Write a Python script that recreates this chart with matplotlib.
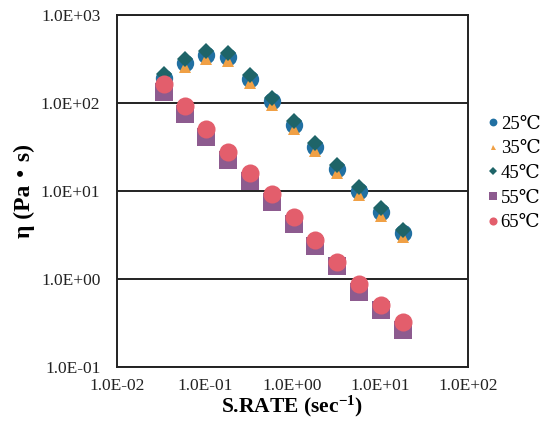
"""
Viscosity vs shear rate at five temperatures (log-log).
"""
import matplotlib
matplotlib.use("Agg")
import matplotlib.pyplot as plt
import numpy as np
from matplotlib.ticker import FixedLocator, FuncFormatter, NullLocator

plt.rcParams["font.family"] = ["Liberation Serif", "DejaVu Serif", "Noto Sans CJK JP"]
plt.rcParams["mathtext.fontset"] = "custom"
plt.rcParams["mathtext.rm"] = "Liberation Serif:bold"
plt.rcParams["mathtext.default"] = "rm"

# shear rate (sec-1)
rate = [0.034, 0.059, 0.104, 0.184, 0.325, 0.58, 1.03, 1.82, 3.22, 5.7, 10.1, 18.0]

# viscosity (Pa s) per temperature
eta_25 = [190, 285, 350, 330, 186, 104, 56, 31.5, 17.7, 10.1, 5.8, 3.3]
eta_35 = [172, 258, 318, 298, 168, 94, 50.5, 28.5, 16.0, 9.1, 5.25, 3.0]
eta_45 = [212, 315, 388, 365, 206, 115, 62, 35, 19.6, 11.2, 6.4, 3.65]
eta_55 = [132, 75, 41, 22.5, 13.0, 7.4, 4.2, 2.35, 1.42, 0.72, 0.44, 0.26]
eta_65 = [164, 93, 51, 28, 16.0, 9.2, 5.1, 2.8, 1.55, 0.88, 0.51, 0.325]

labels = ["25\u2103", "35\u2103", "45\u2103", "55\u2103", "65\u2103"]
y_ticks = [0.1, 1, 10, 100, 1000]
x_ticks = [0.01, 0.1, 1, 10, 100]

series = [
    (eta_25, "o", "#2170a2", 12.5),
    (eta_35, "^", "#f0a045", 8),
    (eta_45, "D", "#1e6468", 8.5),
    (eta_55, "s", "#8d5b8f", 12.5),
    (eta_65, "o", "#e35e6c", 13),
]

fig = plt.figure(figsize=(5.46, 4.23), dpi=100)
ax = fig.add_axes([0.2143, 0.1324, 0.6427, 0.8322])

handles = []
for (vals, mk, col, ms), lab in zip(series, labels):
    h, = ax.plot(rate, vals, linestyle="none", marker=mk, color=col,
                 markersize=ms, markeredgewidth=0, label=lab, zorder=3)
    handles.append(h)

ax.set_xscale("log")
ax.set_yscale("log")
ax.set_xlim(0.01, 100)
ax.set_ylim(0.1, 1000)

fmt = FuncFormatter(lambda v, p: f"{v:.1E}")
ax.xaxis.set_major_locator(FixedLocator(x_ticks))
ax.yaxis.set_major_locator(FixedLocator(y_ticks))
ax.xaxis.set_minor_locator(NullLocator())
ax.yaxis.set_minor_locator(NullLocator())
ax.xaxis.set_major_formatter(fmt)
ax.yaxis.set_major_formatter(fmt)
ax.tick_params(length=0, labelsize=12.5, colors="#222222")
ax.tick_params(axis="x", pad=8)
ax.tick_params(axis="y", pad=12)

ax.grid(axis="y", color="#222222", linewidth=1.4, zorder=1)
for sp in ax.spines.values():
    sp.set_linewidth(1.4)
    sp.set_color("#222222")

ax.set_xlabel(r"S.RATE (sec$^{-1}$)", fontsize=15.5, fontweight="bold", labelpad=0)
ax.set_ylabel("\u03b7 (Pa\u30fbs)", fontsize=17, fontweight="bold", labelpad=4)

leg = ax.legend(handles=handles, loc="center left", bbox_to_anchor=(1.0, 0.55),
                frameon=False, fontsize=13.5, markerscale=0.45, handlelength=0.5,
                handletextpad=0.15, labelspacing=0.4, borderaxespad=0.7)

fig.savefig("out.png", dpi=100)
